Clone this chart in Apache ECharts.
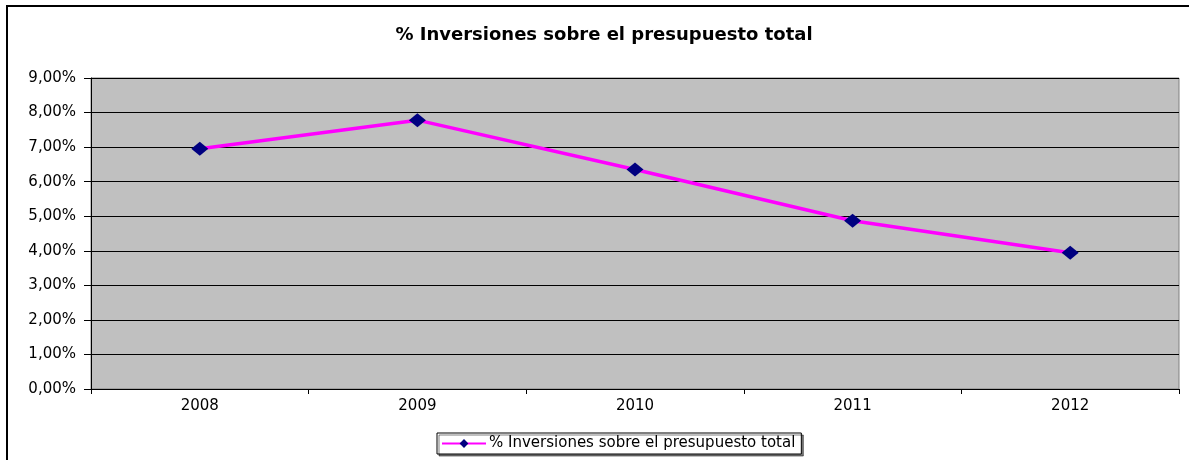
<!DOCTYPE html>
<html>
<head>
<meta charset="utf-8">
<script src="https://cdn.jsdelivr.net/npm/echarts@6/dist/echarts.min.js"></script>
<style>
  html, body { margin: 0; padding: 0; background: #fff; }
  #main { width: 1189px; height: 460px; }
</style>
</head>
<body>
<div id="main"></div>
<script>
// Données
var years = ['2008', '2009', '2010', '2011', '2012'];
var pctInversiones = [6.95, 7.78, 6.35, 4.87, 3.94];
var serieName = '% Inversiones sobre el presupuesto total';

var myChart = echarts.init(document.getElementById('main'));

var option = {
  backgroundColor: '#fff',
  textStyle: { fontFamily: 'DejaVu Sans, sans-serif' },
  title: {
    text: serieName,
    left: 599,
    textAlign: 'center',
    top: 21,
    textStyle: { fontSize: 18, fontWeight: 'bold', color: '#000', fontFamily: 'DejaVu Sans, sans-serif' }
  },
  graphic: [{
    type: 'rect',
    shape: { x: 7, y: 6, width: 1200, height: 480 },
    style: { fill: 'none', stroke: '#000', lineWidth: 2 },
    silent: true
  }],
  grid: { left: 91, right: 10, top: 78, bottom: 71, backgroundColor: '#c0c0c0', show: true, borderColor: '#808080', borderWidth: 1 },
  legend: {
    data: [serieName],
    top: 433,
    left: 437,
    borderColor: '#000',
    borderWidth: 1,
    padding: [3, 6, 3, 4],
    itemWidth: 44,
    itemHeight: 11,
    shadowColor: 'rgba(0,0,0,0.5)',
    shadowOffsetX: 2,
    shadowOffsetY: 2,
    backgroundColor: '#fff',
    textStyle: { fontSize: 15, color: '#000', padding: [0, 0, 0, -2] }
  },
  xAxis: {
    type: 'category',
    data: years,
    boundaryGap: true,
    axisLine: { lineStyle: { color: '#000', width: 1 } },
    axisTick: { show: true, length: 5, lineStyle: { color: '#000' } },
    axisLabel: { fontSize: 15, color: '#000', margin: 10 }
  },
  yAxis: {
    type: 'value',
    min: 0,
    max: 9,
    interval: 1,
    axisLine: { show: true, lineStyle: { color: '#000', width: 1 } },
    axisTick: { show: true, length: 7, lineStyle: { color: '#000' } },
    axisLabel: {
      fontSize: 15,
      color: '#000',
      margin: 15,
      formatter: function (v) { return v.toFixed(2).replace('.', ',') + '%'; }
    },
    splitLine: { show: true, lineStyle: { color: '#000', width: 1 } }
  },
  series: [{
    name: serieName,
    type: 'line',
    data: pctInversiones,
    symbol: 'diamond',
    symbolSize: [17, 14],
    itemStyle: { color: '#000080' },
    lineStyle: { color: '#ff00ff', width: 3.5 },
    z: 5
  }]
};

myChart.setOption(option);
</script>
</body>
</html>
